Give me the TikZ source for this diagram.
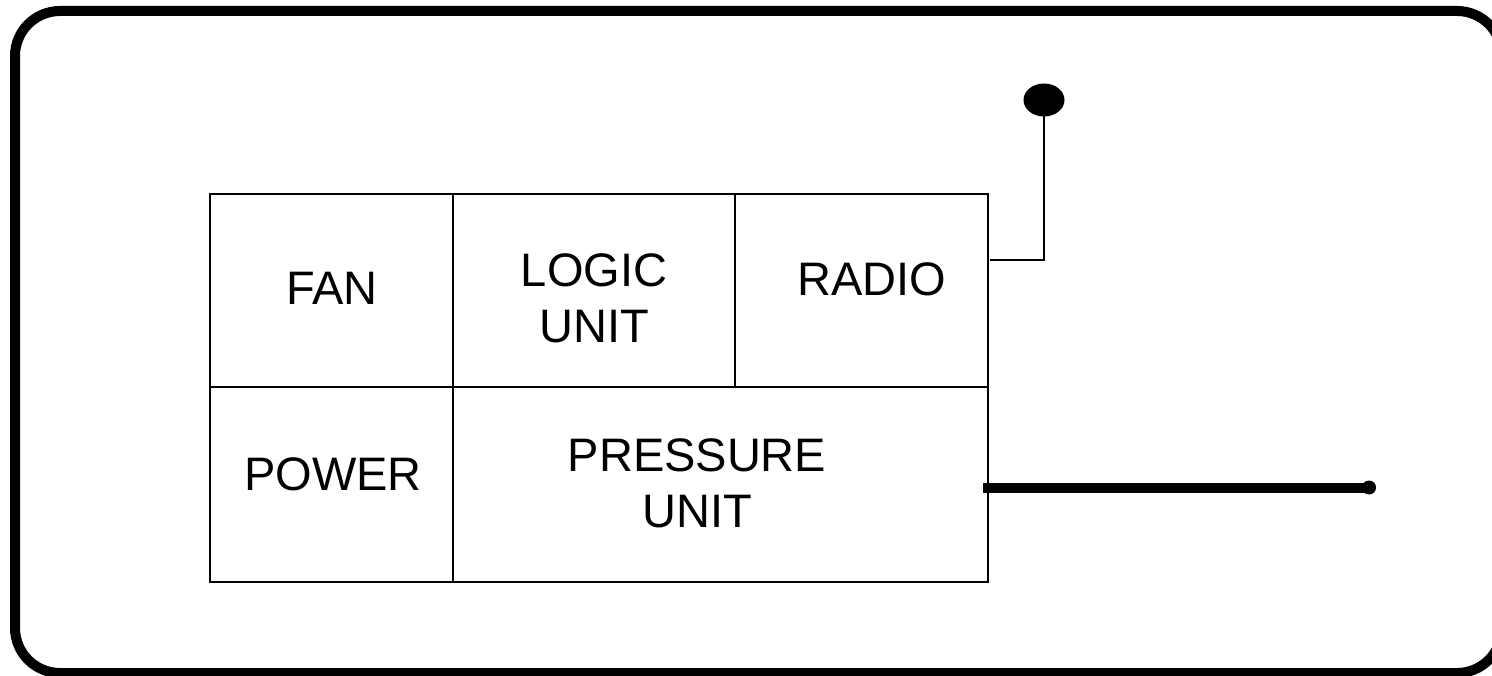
\documentclass[tikz,border=0pt]{standalone}
\usepackage{fontspec}
\setmainfont{Liberation Sans}
\usetikzlibrary{shapes.geometric}
\tikzset{
  cell/.style={draw=black, line width=2pt, rectangle, inner sep=0pt, outer sep=0pt},
  lbl/.style={font=\fontsize{47}{56}\selectfont, align=center, inner sep=0pt, text depth=0pt},
  wire/.style={draw=black, line width=2.2pt},
  frame/.style={draw=black, line width=10pt},
}
\begin{document}
\begin{tikzpicture}[x=1pt,y=-1pt]
\useasboundingbox (0,0) rectangle (1492,676);
\clip (0,0) rectangle (1492,676);
% outer frame
\draw[frame] (1457,11) -- (60,11) arc[start angle=90, end angle=180, radius=45pt]
  -- (15,628) arc[start angle=180, end angle=270, radius=45pt]
  -- (1457,673) arc[start angle=270, end angle=360, radius=45pt]
  -- (1502,56) arc[start angle=0, end angle=90, radius=45pt] -- cycle;
% cells
\node[cell, minimum width=243pt, minimum height=193pt] (fan) at (331.5,290.5) {};
\node[cell, minimum width=282pt, minimum height=193pt] (logic) at (594,290.5) {};
\node[cell, minimum width=253pt, minimum height=193pt] (radio) at (861.5,290.5) {};
\node[cell, minimum width=243pt, minimum height=195pt] (power) at (331.5,484.5) {};
\node[cell, minimum width=535pt, minimum height=195pt] (pressure) at (720.5,484.5) {};
% labels
\node[lbl] (tfan) at (332,288) {FAN};
\node[lbl] (tlogic) at (594,298) {LOGIC\\UNIT};
\node[lbl] (tradio) at (872,279) {RADIO};
\node[lbl] (tpower) at (333,474) {POWER};
\node[lbl] (tpressure) at (697,483) {PRESSURE\\UNIT};
% radio antenna
\coordinate (rj) at (990,260);
\node[ellipse, fill=black, inner sep=0pt, minimum width=41pt, minimum height=33pt] (dot) at (1044,100) {};
\draw[wire] (rj) -| (dot.center);
% pressure tube
\coordinate (pj) at (983,487.5);
\node[circle, fill=black, inner sep=0pt, minimum size=14pt] (pdot) at (1369,487.5) {};
\draw[draw=black, line width=10pt] (pj) -- (pdot.center);
\end{tikzpicture}
\end{document}
